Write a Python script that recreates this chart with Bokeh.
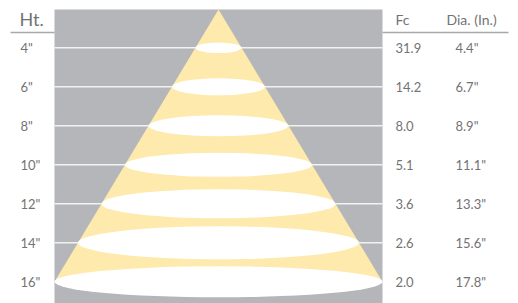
from bokeh.plotting import figure
from bokeh.models import Range1d, ColumnDataSource
from bokeh.embed import file_html
from bokeh.resources import INLINE
from bokeh.core.properties import value

# ---- data ----
heights = [4, 6, 8, 10, 12, 14, 16]
height_labels = ['4"', '6"', '8"', '10"', '12"', '14"', '16"']
fc = [31.9, 14.2, 8.0, 5.1, 3.6, 2.6, 2.0]
dia = [4.4, 6.7, 8.9, 11.1, 13.3, 15.6, 17.8]
fc_labels = ["%.1f" % v for v in fc]
dia_labels = ['%.1f"' % v for v in dia]

# ---- layout / style ----
W, H = 518, 303
PX_PER_FT = 19.5
Y0_PX = 47.3  # pixel row of the 4" line


def px2h(ypx):
    return heights[0] + (ypx - Y0_PX) / PX_PER_FT


CX = 218
APEX_H = px2h(9)
BASE_H = heights[-1]
BASE_HALF = 164
GRAY = "#b5b6ba"
YELLOW = "#feeaad"
TXT = "#737373"
FONT = "Lato"
ell_h_px = [10.5, 17, 21, 24, 29, 33, 31]

p = figure(width=W, height=H, output_backend="svg", toolbar_location=None,
           x_range=Range1d(0, W), y_range=Range1d(px2h(H), px2h(0)),
           min_border=0)
p.axis.visible = False
p.grid.visible = False
p.outline_line_color = None
p.background_fill_color = "white"
p.border_fill_color = "white"

# gray panel
p.quad(left=CX - BASE_HALF, right=CX + BASE_HALF, top=APEX_H, bottom=px2h(320),
       fill_color=GRAY, line_color=None)

# white horizontal lines
p.segment(x0=[CX - BASE_HALF] * len(heights), x1=[CX + BASE_HALF] * len(heights),
          y0=heights, y1=heights, line_color="#f2f2f2", line_width=1.6)

# light cone
p.patch(x=[CX, CX - BASE_HALF, CX + BASE_HALF], y=[APEX_H, BASE_H, BASE_H],
        fill_color=YELLOW, line_color=None)

# ellipses (spot at each height)
widths = [2 * BASE_HALF * (h - APEX_H) / (BASE_H - APEX_H) for h in heights]
src = ColumnDataSource(dict(x=[CX] * len(heights), y=heights, w=widths, eh=ell_h_px))
p.ellipse(x="x", y="y", width="w", height="eh", height_units="screen",
          source=src, fill_color="white", line_color=None)

# labels
lab = ColumnDataSource(dict(h=heights, hl=height_labels, fl=fc_labels, dl=dia_labels,
                            xl=[20] * len(heights), xf=[395] * len(heights),
                            xd=[455] * len(heights)))
for xcol, tcol in (("xl", "hl"), ("xf", "fl"), ("xd", "dl")):
    p.text(x=xcol, y="h", text=tcol, source=lab, text_font=value(FONT),
           text_font_size="13px", text_color=TXT, text_align="left",
           text_baseline="middle")

# headers
p.text(x=[19], y=[px2h(18.5)], text=["Ht."], text_font=value(FONT),
       text_font_size="18px", text_color=TXT, text_baseline="middle")
p.text(x=[395, 446], y=[px2h(18.5)] * 2, text=["Fc", "Dia. (In.)"],
       text_font=value(FONT), text_font_size="14px", text_color=TXT,
       text_baseline="middle")
p.segment(x0=[10, CX + BASE_HALF], x1=[CX - BASE_HALF, 508],
          y0=[px2h(32)] * 2, y1=[px2h(32)] * 2, line_color="#a8a8a8", line_width=1.5)

open("out.html", "w").write(file_html(p, INLINE))
